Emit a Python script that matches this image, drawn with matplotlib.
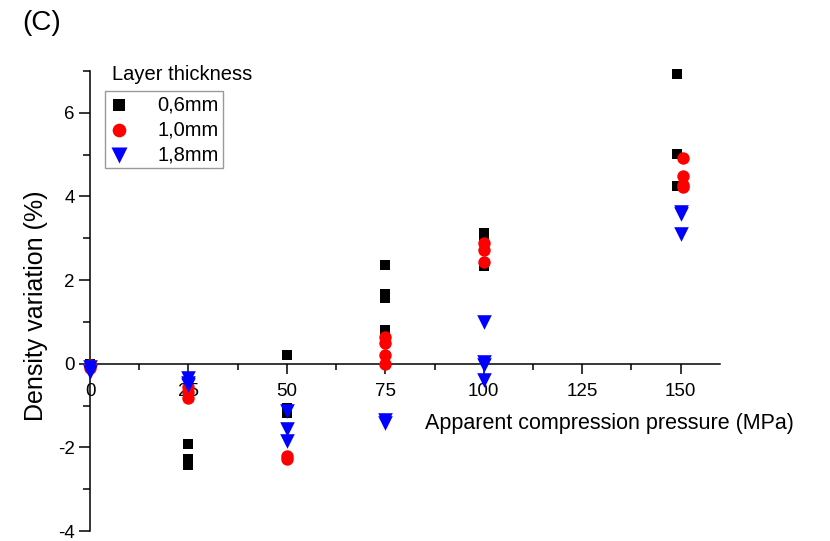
import matplotlib
matplotlib.use('Agg')
import matplotlib.pyplot as plt

plt.rcParams['font.family'] = ['Liberation Sans', 'DejaVu Sans']
plt.rcParams['axes.unicode_minus'] = False

# layer thickness 0,6 mm
x_06 = [0, 25, 25, 25, 25, 50, 50, 50, 75, 75, 75, 75, 100, 100, 100, 149, 149, 149]
y_06 = [0.0, -1.93, -2.27, -2.38, -2.42, 0.22, -1.05, -1.18, 2.36, 1.67, 1.57, 0.8,
        3.12, 3.05, 2.33, 6.92, 5.02, 4.24]
# layer thickness 1,0 mm
x_10 = [0, 0, 25, 25, 25, 50, 50, 75, 75, 75, 75, 100, 100, 100, 150.5, 150.5, 150.5, 150.5]
y_10 = [-0.02, -0.1, -0.55, -0.68, -0.82, -2.2, -2.28, 0.65, 0.5, 0.22, 0.0,
        2.88, 2.72, 2.43, 4.93, 4.5, 4.28, 4.22]
# layer thickness 1,8 mm
x_18 = [0, 0, 25, 25, 25, 50, 50, 50, 75, 75, 100, 100, 100, 100, 150, 150, 150]
y_18 = [-0.08, -0.2, -0.35, -0.45, -0.5, -1.12, -1.55, -1.85, -1.35, -1.42,
        1.0, 0.05, -0.02, -0.38, 3.57, 3.62, 3.1]

labels = ['0,6mm', '1,0mm', '1,8mm']
xticks = [0, 25, 50, 75, 100, 125, 150]
yticks = [-4, -2, 0, 2, 4, 6]

fig = plt.figure(figsize=(8.3, 5.41), dpi=100)
ax = fig.add_axes([90/830, 10/541, 630/830, 460/541])

ax.scatter(x_06, y_06, marker='s', s=58, color='black', linewidths=0, label=labels[0], clip_on=False, zorder=3)
ax.scatter(x_10, y_10, marker='o', s=80, color='red', linewidths=0, label=labels[1], clip_on=False, zorder=4)
ax.scatter(x_18, y_18, marker='v', s=110, color='blue', linewidths=0, label=labels[2], clip_on=False, zorder=5)

ax.set_xlim(0, 160)
ax.set_ylim(-4, 7)
ax.spines['top'].set_visible(False)
ax.spines['right'].set_visible(False)
ax.spines['bottom'].set_position(('data', 0))
for sp in ('left', 'bottom'):
    ax.spines[sp].set_linewidth(1.1)

ax.set_xticks(xticks)
ax.set_xticks([12.5 + 25 * i for i in range(6)], minor=True)
ax.set_yticks(yticks)
ax.set_yticks([-3, -1, 1, 3, 5, 7], minor=True)
ax.tick_params(axis='x', which='major', direction='out', length=7, width=1.1, labelsize=13.5, pad=7)
ax.tick_params(axis='x', which='minor', direction='out', length=4.5, width=1.1)
ax.tick_params(axis='y', which='major', direction='out', length=8, width=1.1, labelsize=13.5, pad=3)
ax.tick_params(axis='y', which='minor', direction='out', length=5, width=1.1)

ax.set_ylabel('Density variation (%)', fontsize=18)
ax.yaxis.set_label_coords(-0.067, 0.49)
ax.set_xlabel('Apparent compression pressure (MPa)', fontsize=15.5)
ax.xaxis.set_label_coords(0.825, 0.234)
ax.xaxis.label.set_va('center')

leg = ax.legend(loc='upper left', bbox_to_anchor=(105/830, 1 - 91/541), bbox_transform=fig.transFigure,
                borderaxespad=0, fontsize=14.5, frameon=True, fancybox=False, edgecolor='#808080',
                handlelength=1.0, handletextpad=1.4, borderpad=0.2, labelspacing=0.3, scatterpoints=1,
                markerscale=1.1)
leg.get_frame().set_linewidth(1.0)
fig.text(112/830, 1 - 75/541, 'Layer thickness', fontsize=14.5, va='center', ha='left')
fig.text(22/830, 1 - 23/541, '(C)', fontsize=20, va='center', ha='left')

fig.savefig('out.png', dpi=100)
